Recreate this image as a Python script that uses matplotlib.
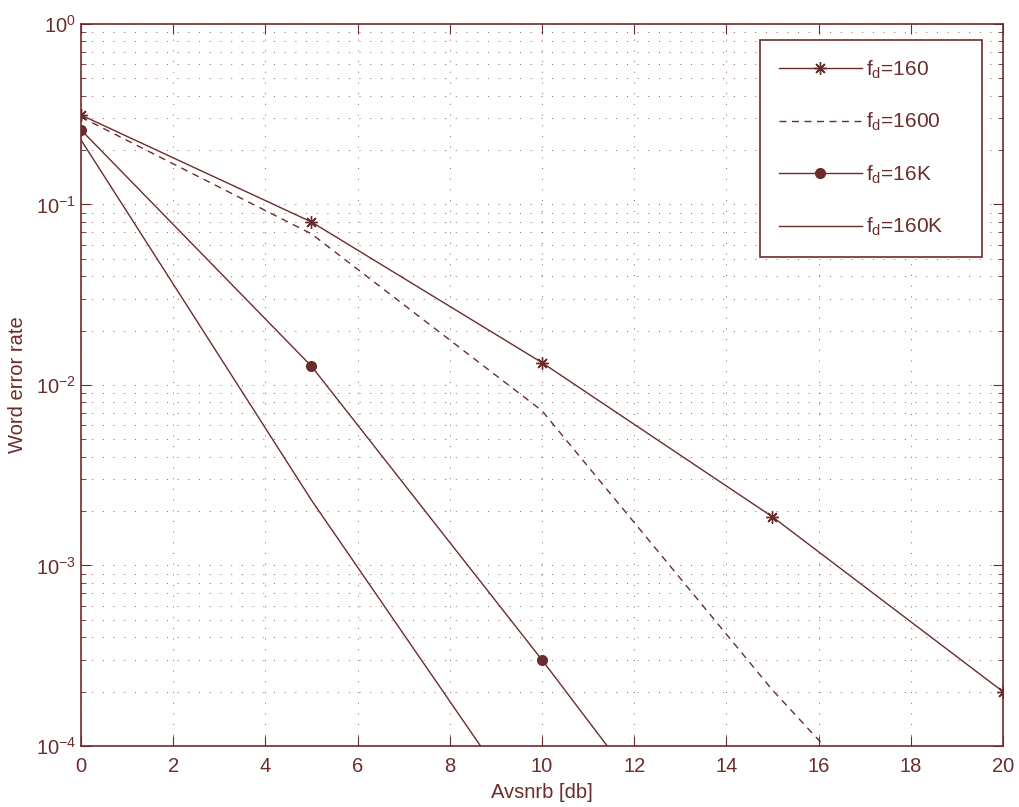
import matplotlib.pyplot as plt
import numpy as np

plt.rcParams['font.family'] = ['Liberation Sans', 'DejaVu Sans']
plt.rcParams['mathtext.fontset'] = 'custom'
plt.rcParams['mathtext.rm'] = 'Liberation Sans'
plt.rcParams['mathtext.it'] = 'Liberation Sans'

c = '#6b2c2c'

# word error rate vs average snr, per doppler spread
x_160 = [0, 5, 10, 15, 20]
wer_160 = [0.313, 0.080, 0.0133, 0.00186, 0.0002]
x_1600 = [0, 5, 10, 15, 20]
wer_1600 = [0.305, 0.0687, 0.0072, 0.000204, 0.0000085]
x_16k = [0, 5, 10, 15]
wer_16k = [0.259, 0.0127, 0.0003, 0.0000062]
x_160k = [0, 5, 10]
wer_160k = [0.228, 0.0023, 0.000032]

fig = plt.figure(figsize=(10.2, 8.07), dpi=100)
ax = fig.add_axes([0.0794, 0.0756, 0.9039, 0.8947])

ax.semilogy(x_160, wer_160, color=c, lw=1, marker=(8, 2, 0), ms=9, mew=1,
            label=r'f$_{\rm d}$=160')
ax.semilogy(x_1600, wer_1600, color=c, lw=1, ls=(0, (5, 4)),
            label=r'f$_{\rm d}$=1600')
ax.semilogy(x_16k, wer_16k, color=c, lw=1, marker='o', ms=7,
            label=r'f$_{\rm d}$=16K')
ax.semilogy(x_160k, wer_160k, color=c, lw=1, label=r'f$_{\rm d}$=160K')

ax.set_xlim(0, 20)
ax.set_ylim(1e-4, 1)
ax.set_xticks(np.arange(0, 21, 2))

gs = dict(color=c, ls=(0, (1, 10)), lw=0.7, alpha=0.75)
ax.grid(True, which='major', axis='x', **gs)
ax.grid(True, which='both', axis='y', **gs)

for s in ax.spines.values():
    s.set_color(c)
    s.set_linewidth(1.2)
ax.tick_params(which='both', direction='in', top=True, right=True,
               colors=c, labelsize=14.5)
ax.tick_params(which='major', length=7)
ax.tick_params(which='minor', length=3.5)
ax.tick_params(axis='x', which='minor', bottom=False, top=False)
ax.tick_params(axis='x', pad=8)

ax.set_xlabel('Avsnrb [db]', color=c, fontsize=14.5, labelpad=5)
ax.set_ylabel('Word error rate', color=c, fontsize=14.5, labelpad=6)

leg = ax.legend(loc='upper left', bbox_to_anchor=(0.7364, 0.5, 0.2408, 0.478),
                mode='expand', fontsize=15, handlelength=4.0,
                handletextpad=0.2, labelspacing=1.45, borderpad=0.9,
                fancybox=False, framealpha=1, borderaxespad=0)
leg.get_frame().set_edgecolor(c)
leg.get_frame().set_linewidth(1.2)
for t in leg.get_texts():
    t.set_color(c)

fig.savefig('out.png', dpi=100)
